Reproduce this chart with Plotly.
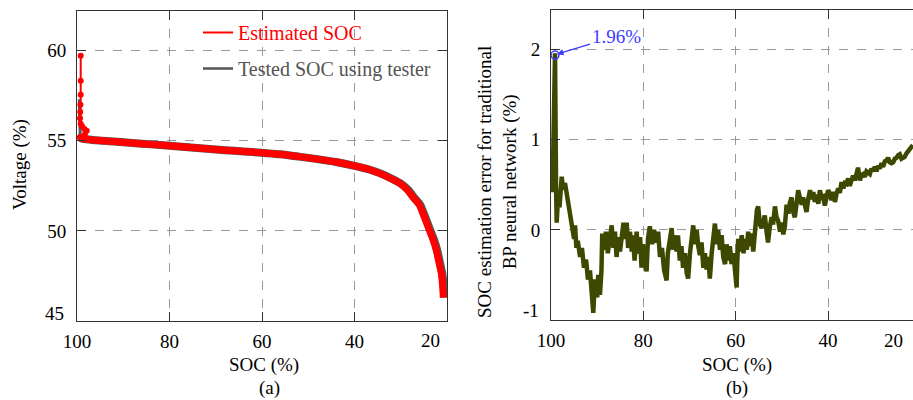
import plotly.graph_objects as go

# ---------------- Data ----------------
# (a) Voltage vs SOC -- initial transient (thin line with markers)
spike_soc_est = [99.2, 99.2, 99.2, 99.25, 99.3, 99.35, 99.2, 98.9, 98.4, 97.9, 98.3, 99.0, 99.4]
spike_v_est = [59.72, 58.33, 57.55, 57.0, 56.6, 56.25, 55.95, 55.8, 55.65, 55.55, 55.35, 55.22, 55.2]
# (a) main discharge curve, estimated SOC
soc_est = [99.4, 99.0, 98.0, 97.0, 96, 92, 88, 84, 80, 76, 72, 68, 64, 60, 56, 52, 48, 44, 40, 37, 34.6,
           32, 30.2, 28.5, 27.4, 26, 25.2, 24.5, 23.8, 23, 22.3, 21.7, 21.2, 20.9, 20.8]
v_est = [55.2, 55.12, 55.08, 55.06, 55.03, 54.96, 54.88, 54.80, 54.72, 54.64, 54.56, 54.48, 54.41, 54.33,
         54.25, 54.12, 53.98, 53.82, 53.61, 53.42, 53.19, 52.88, 52.63, 52.25, 51.88, 51.45, 50.96, 50.5,
         50.03, 49.5, 48.91, 48.2, 47.6, 46.8, 46.3]
# tested SOC (tester)
spike_soc_test = [99.5, 99.5, 99.4, 99.3, 99.45]
spike_v_test = [57.3, 56.5, 55.9, 55.5, 55.2]
soc_test = [99.45, 99.0, 98.0, 97.0, 96, 92, 88, 84, 80, 76, 72, 68, 64, 60, 56, 52, 48, 44, 40, 37, 34.4,
            31.8, 30.0, 28.3, 27.2, 25.8, 25.0, 24.3, 23.6, 22.8, 22.1, 21.5, 21.0, 20.7, 20.6]
v_test = [55.2, 55.12, 55.08, 55.06, 55.03, 54.96, 54.88, 54.80, 54.72, 54.64, 54.56, 54.48, 54.41, 54.33,
          54.25, 54.12, 53.98, 53.82, 53.61, 53.42, 53.19, 52.88, 52.63, 52.25, 51.88, 51.45, 50.96, 50.5,
          50.03, 49.5, 48.91, 48.2, 47.6, 46.8, 46.3]

# (b) SOC estimation error of the traditional BP neural network
soc_err = [100.0, 99.8, 99.6, 99.13, 98.9, 98.77, 98.5, 98.16, 97.68, 97.4, 96.97, 96.5, 96.1, 95.9, 95.45,
           95.0, 94.8, 94.5, 94.2, 93.7, 93.3, 92.86, 92.4, 92.0, 91.56, 91.2, 90.84, 90.5, 90.0, 89.76,
           89.4, 89.07, 88.9, 88.5, 88.1, 87.7, 87.2, 86.86, 86.47, 86.15, 85.8, 85.4, 85.06, 84.6, 84.3,
           83.98, 83.6, 83.3, 82.9, 82.5, 82.25, 81.9, 81.45, 81.2, 80.7, 80.4, 80.1, 79.65, 79.3, 79.0,
           78.6, 78.1, 77.7, 77.1, 76.8, 76.4, 75.97, 75.5, 74.96, 74.7, 74.2, 73.87, 73.6, 73.27, 72.8,
           72.5, 72.1, 71.75, 71.4, 71.0, 70.6, 70.3, 69.9, 69.55, 69.2, 68.8, 68.46, 68.1, 67.75, 67.4,
           67.0, 66.67, 66.3, 65.95, 65.6, 65.2, 64.87, 64.5, 64.1, 63.8, 63.4, 63.05, 62.7, 62.3, 61.97,
           61.6, 61.26, 60.9, 60.5, 60.17, 59.8, 59.67, 59.46, 59.1, 58.7, 58.3, 58.0, 57.6, 57.3, 56.9,
           56.56, 56.2, 55.95, 55.7, 55.4, 55.13, 54.76, 54.4, 54.05, 53.7, 53.3, 53.0, 52.6, 52.2, 51.9,
           51.5, 51.15, 50.8, 50.4, 50.06, 49.7, 49.35, 48.98, 48.6, 48.27, 47.9, 47.55, 47.2, 46.8, 46.47,
           46.1, 45.7, 45.4, 45.0, 44.66, 44.3, 43.9, 43.57, 43.2, 42.86, 42.5, 42.1, 41.77, 41.4, 41.06,
           40.7, 40.3, 39.98, 39.6, 39.24, 38.9, 38.5, 38.16, 37.8, 37.45, 37.08, 36.7, 36.36, 36.0, 35.65,
           35.3, 34.9, 34.57, 34.2, 33.83, 33.5, 33.1, 32.75, 32.4, 32.03, 31.67, 31.3, 30.95, 30.6, 30.24,
           29.87, 29.5, 29.16, 28.8, 28.42, 28.07, 27.7, 27.34, 27.0, 26.6, 26.25, 25.9, 25.54, 25.17, 24.8,
           24.46, 24.1, 23.7, 23.4, 23.0, 22.66, 22.3, 21.9, 21.64]
err_bp = [0.7, 0.42, 0.6, 1.96, 0.45, 0.08, 0.35, 0.25, 0.59, 0.45, 0.52, 0.38, 0.28, 0.15, 0.05,
          -0.1, 0.05, -0.2, -0.12, -0.3, -0.2, -0.42, -0.33, -0.55, -0.45, -0.7, -0.92, -0.55, -0.75, -0.5,
          -0.72, -0.45, -0.04, -0.22, -0.02, -0.26, -0.08, 0.05, -0.2, -0.02, -0.3, -0.08, -0.24, -0.02, 0.08,
          -0.1, 0.08, -0.2, -0.02, -0.24, -0.06, -0.34, -0.02, -0.26, -0.08, -0.42, -0.16, -0.34, -0.46, -0.1,
          0.04, -0.16, 0.0, -0.14, -0.02, -0.3, -0.2, -0.45, -0.56, -0.26, -0.1, 0.02, -0.22, -0.06, -0.24,
          -0.06, -0.34, -0.18, -0.42, -0.26, -0.48, -0.54, -0.26, -0.1, 0.05, -0.16, 0.0, -0.18, -0.28, -0.14,
          -0.42, -0.26, -0.44, -0.3, -0.54, -0.26, -0.06, 0.07, -0.16, 0.0, -0.22, -0.06, -0.3, -0.38, -0.16,
          -0.34, -0.18, -0.38, -0.26, -0.5, -0.64, -0.38, -0.1, -0.24, -0.06, -0.26, -0.1, -0.22, -0.02, -0.18,
          -0.04, -0.24, -0.06, 0.14, 0.22, 0.26, 0.06, 0.02, 0.12, 0.16, -0.02, -0.14, 0.04, 0.14, 0.06,
          0.26, 0.14, 0.1, -0.02, 0.08, -0.05, 0.04, 0.28, 0.18, 0.3, 0.36, 0.2, 0.14, 0.3, 0.44,
          0.36, 0.28, 0.36, 0.24, 0.2, 0.34, 0.44, 0.34, 0.42, 0.31, 0.39, 0.29, 0.44, 0.36, 0.37,
          0.27, 0.4, 0.44, 0.4, 0.33, 0.42, 0.31, 0.4, 0.46, 0.41, 0.53, 0.46, 0.52, 0.51, 0.57,
          0.49, 0.58, 0.6, 0.55, 0.63, 0.69, 0.55, 0.61, 0.62, 0.59, 0.65, 0.64, 0.62, 0.68, 0.65,
          0.7, 0.65, 0.71, 0.68, 0.74, 0.7, 0.76, 0.77, 0.8, 0.75, 0.74, 0.75, 0.79, 0.8, 0.83,
          0.84, 0.79, 0.8, 0.81, 0.85, 0.87, 0.9, 0.93, 0.94]

peak_soc = [99.13]
peak_err = [1.94]
peak_label = "1.96%"

xticks = [100, 80, 60, 40]
yticks_a = [50, 55, 60]
yticks_b = [0, 1, 2]

# ---------------- Styling ----------------
FONT = "'Liberation Serif', 'Times New Roman', Times, serif"
GRID = "#9a9a9a"
AX = "#333333"
OLIVE = "rgb(62,72,0)"
BLUE = "rgb(60,60,255)"
RED = "#ff0000"
GRAY = "#555555"

fig = go.Figure()

fig.add_trace(go.Scatter(
    x=spike_soc_test, y=spike_v_test, mode="lines", line=dict(color=GRAY, width=3),
    xaxis="x", yaxis="y", showlegend=False))
fig.add_trace(go.Scatter(
    x=soc_test, y=v_test, mode="lines", line=dict(color=GRAY, width=8, shape="spline", smoothing=0.6),
    xaxis="x", yaxis="y", showlegend=False))
fig.add_trace(go.Scatter(
    x=soc_est, y=v_est, mode="lines",
    line=dict(color=RED, width=7, shape="spline", smoothing=0.6),
    xaxis="x", yaxis="y", showlegend=False))
fig.add_trace(go.Scatter(
    x=spike_soc_est, y=spike_v_est, mode="lines+markers",
    line=dict(color=RED, width=2), marker=dict(color=RED, size=6, symbol="circle"),
    xaxis="x", yaxis="y", showlegend=False))
# legend entries (thin line samples, like the reference legend)
fig.add_trace(go.Scatter(
    x=[None], y=[None], mode="lines", name="<span style='color:#ff0000'>Estimated SOC</span>",
    line=dict(color=RED, width=2), xaxis="x", yaxis="y", legendrank=1, legendgroup="a"))
fig.add_trace(go.Scatter(
    x=[None], y=[None], mode="lines", name="<span style='color:#555555'>Tested SOC using tester</span>",
    line=dict(color=GRAY, width=2.5), xaxis="x", yaxis="y", legendrank=2, legendgroup="b"))

fig.add_trace(go.Scatter(
    x=soc_err, y=err_bp, mode="lines", line=dict(color=OLIVE, width=4.5),
    xaxis="x2", yaxis="y2", showlegend=False))
fig.add_trace(go.Scatter(
    x=peak_soc, y=peak_err, mode="markers",
    marker=dict(symbol="circle-open", size=8, color=BLUE, line=dict(width=1.5, color=BLUE)),
    xaxis="x2", yaxis="y2", showlegend=False))

W, H = 913, 400
common_axis = dict(
    showline=True, linecolor=AX, linewidth=1,
    ticks="inside", ticklen=9, tickcolor=AX, tickwidth=1,
    showgrid=True, gridcolor=GRID, griddash="dash", gridwidth=1,
    zeroline=False, tickfont=dict(family=FONT, size=19, color="black"),
    automargin=False,
)

fig.update_layout(
    width=W, height=H, margin=dict(l=0, r=0, t=0, b=0, autoexpand=False),
    paper_bgcolor="white", plot_bgcolor="white",
    font=dict(family=FONT, size=19, color="black"),
    xaxis=dict(domain=[77 / W, 447 / W], range=[100, 20], tickvals=xticks, mirror="ticks",
               anchor="y", ticklabelstandoff=3, **common_axis),
    yaxis=dict(domain=[1 - 321 / H, 1 - 11 / H], range=[45, 62.2], tickvals=yticks_a, mirror="ticks",
               anchor="x", ticklabelstandoff=6, **common_axis),
    xaxis2=dict(domain=[551 / W, 1.0], range=[100, 21.6], tickvals=xticks, mirror="ticks",
                anchor="y2", ticklabelstandoff=3, **common_axis),
    yaxis2=dict(domain=[1 - 320 / H, 1 - 10 / H], range=[-1, 2.44], tickvals=yticks_b, mirror=False,
                anchor="x2", ticklabelstandoff=6, **common_axis),
    showlegend=True,
    legend=dict(x=198 / W, y=1 - 13 / H, xanchor="left", yanchor="top",
                bgcolor="rgba(0,0,0,0)", borderwidth=0, tracegroupgap=7,
                font=dict(family=FONT, size=20)),
)

ann = []
# edge tick labels (shifted inward as in the reference)
ann.append(dict(text="20", xref="paper", yref="paper", x=430 / W, y=1 - 340 / H, showarrow=False,
                xanchor="center", yanchor="middle", font=dict(size=19)))
ann.append(dict(text="45", xref="paper", yref="paper", x=66 / W, y=1 - 313 / H, showarrow=False,
                xanchor="right", yanchor="middle", font=dict(size=19)))
ann.append(dict(text="20", xref="paper", yref="paper", x=893 / W, y=1 - 340 / H, showarrow=False,
                xanchor="center", yanchor="middle", font=dict(size=19)))
ann.append(dict(text="-1", xref="paper", yref="paper", x=541 / W, y=1 - 310 / H, showarrow=False,
                xanchor="right", yanchor="middle", font=dict(size=19)))
# axis titles
ann.append(dict(text="SOC (%)", xref="paper", yref="paper", x=264 / W, y=1 - 365 / H, showarrow=False,
                xanchor="center", yanchor="middle", font=dict(size=19)))
ann.append(dict(text="(a)", xref="paper", yref="paper", x=269 / W, y=1 - 388 / H, showarrow=False,
                xanchor="center", yanchor="middle", font=dict(size=19)))
ann.append(dict(text="SOC (%)", xref="paper", yref="paper", x=737 / W, y=1 - 365 / H, showarrow=False,
                xanchor="center", yanchor="middle", font=dict(size=19)))
ann.append(dict(text="(b)", xref="paper", yref="paper", x=737 / W, y=1 - 388 / H, showarrow=False,
                xanchor="center", yanchor="middle", font=dict(size=19)))
ann.append(dict(text="Voltage (%)", xref="paper", yref="paper", x=20 / W, y=1 - 165 / H, showarrow=False,
                textangle=-90, xanchor="center", yanchor="middle", font=dict(size=19)))
ann.append(dict(text="SOC estimation error for traditional<br>BP neural network (%)", xref="paper",
                yref="paper", x=497 / W, y=1 - 182 / H, showarrow=False, textangle=-90,
                xanchor="center", yanchor="middle", font=dict(size=19)))
# peak annotation
ann.append(dict(text=peak_label, xref="x2", yref="y2", x=98.7, y=1.95, ax=59, ay=-18,
                showarrow=True, arrowhead=2, arrowsize=1, arrowwidth=1.3, arrowcolor=BLUE,
                font=dict(size=19, color=BLUE)))
fig.update_layout(annotations=ann)

fig.write_html("out.html", config={"displayModeBar": False},
               post_script="document.body.style.margin='0px';document.body.style.overflow='hidden';")
